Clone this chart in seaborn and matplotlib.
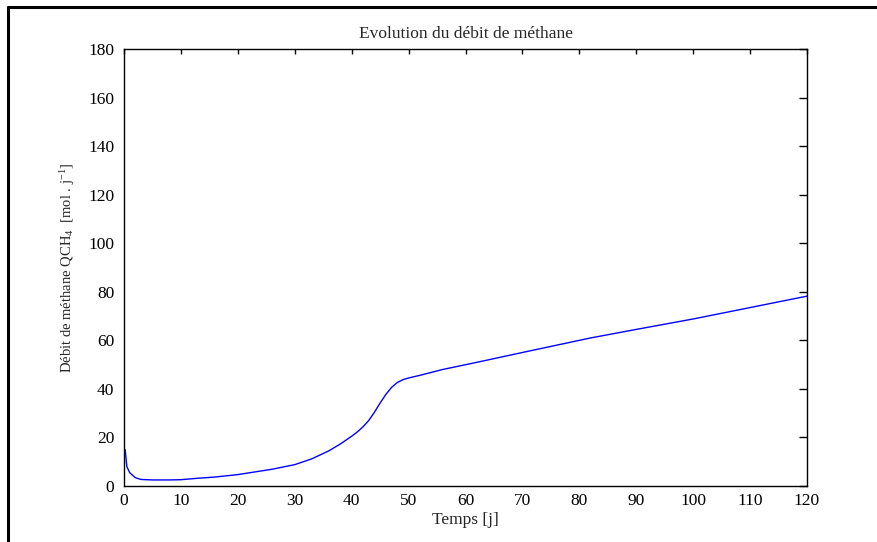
import numpy as np
import pandas as pd
import matplotlib
matplotlib.use('Agg')
import matplotlib.pyplot as plt
from matplotlib.lines import Line2D
import seaborn as sns

# valeurs
temps = [0.2, 0.5, 1, 2, 3, 5, 8, 10, 13, 16, 20, 23, 26, 30, 33, 36, 38, 40,
         41, 42, 43, 44, 45, 46, 47, 48, 49, 50, 52, 56, 62.5, 70, 76, 82, 90,
         100, 110, 120]
debit = [15.0, 8.0, 5.5, 3.4, 2.7, 2.5, 2.5, 2.6, 3.2, 3.7, 4.7, 5.8, 6.9, 8.8,
         11.2, 14.5, 17.3, 20.5, 22.3, 24.4, 27.0, 30.4, 34.2, 37.7, 40.6,
         42.6, 43.8, 44.5, 45.6, 48.0, 51.2, 55.0, 58.0, 61.0, 64.5, 68.8,
         73.5, 78.2]

x_ticks = list(range(0, 121, 10))
y_ticks = list(range(0, 181, 20))

df = pd.DataFrame({'t': temps, 'q': debit})

sns.set_style('white')
plt.rcParams['font.family'] = ['Liberation Serif', 'DejaVu Serif']
plt.rcParams['mathtext.fontset'] = 'custom'
plt.rcParams['mathtext.rm'] = 'Liberation Serif'
plt.rcParams['mathtext.it'] = 'Liberation Serif:italic'

fig = plt.figure(figsize=(8.77, 5.42), dpi=100)
ax = fig.add_axes([0.1414, 0.1033, 0.7788, 0.8063])

sns.lineplot(data=df, x='t', y='q', color='blue', linewidth=1.0, ax=ax)

ax.set_xlim(0, 120)
ax.set_ylim(0, 180)
ax.set_xticks(x_ticks)
ax.set_yticks(y_ticks)
ax.tick_params(direction='in', width=1, top=True, right=True,
               labelsize=12.5, colors='black')
ax.tick_params(axis='x', length=3.5, pad=5)
ax.tick_params(axis='y', length=5.5, pad=7)
for s in ax.spines.values():
    s.set_visible(True)
    s.set_color('black')
    s.set_linewidth(1.0)

ax.set_title('Evolution du débit de méthane', fontsize=12.5, pad=8)
ax.set_xlabel('Temps [j]', fontsize=12.5, labelpad=2)
ax.set_ylabel('Débit de méthane QCH$_{4}$  [mol . j$^{-1}$]', fontsize=10.5, labelpad=8)

# cadre extérieur (haut et gauche)
fig.add_artist(Line2D([8 / 877, 8 / 877], [0, 1 - 7 / 542], color='black',
                      linewidth=2.2, transform=fig.transFigure))
fig.add_artist(Line2D([8 / 877, 1], [1 - 7 / 542, 1 - 7 / 542], color='black',
                      linewidth=2.2, transform=fig.transFigure))

plt.savefig('out.png', dpi=100)
